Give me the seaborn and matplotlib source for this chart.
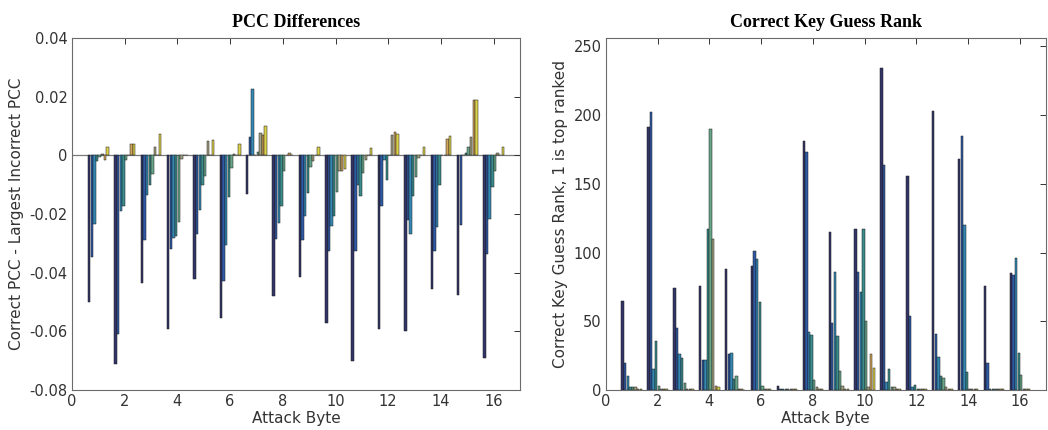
import numpy as np
import pandas as pd
import matplotlib
matplotlib.use("Agg")
import matplotlib.pyplot as plt
import seaborn as sns

bytes_ = list(range(1, 17))
series = ["s1", "s2", "s3", "s4", "s5", "s6", "s7", "s8"]

pcc = [
    [-0.0500, -0.0345, -0.0235, -0.0020, -0.0005, 0.0003, -0.0015, 0.0030],
    [-0.0711, -0.0608, -0.0191, -0.0172, -0.0015, 0.0000, 0.0038, 0.0038],
    [-0.0435, -0.0290, -0.0135, -0.0100, -0.0063, 0.0030, 0.0000, 0.0073],
    [-0.0592, -0.0318, -0.0283, -0.0275, -0.0226, -0.0013, 0.0000, 0.0000],
    [-0.0422, -0.0267, -0.0188, -0.0100, -0.0072, 0.0048, 0.0000, 0.0051],
    [-0.0555, -0.0430, -0.0305, -0.0143, -0.0043, 0.0005, 0.0000, 0.0039],
    [-0.0131, 0.0062, 0.0227, 0.0000, 0.0013, 0.0075, 0.0069, 0.0099],
    [-0.0481, -0.0285, -0.0231, -0.0174, -0.0052, 0.0000, 0.0008, 0.0000],
    [-0.0415, -0.0290, -0.0208, -0.0128, -0.0040, -0.0020, 0.0000, 0.0028],
    [-0.0572, -0.0325, -0.0240, -0.0208, -0.0125, -0.0055, -0.0055, -0.0045],
    [-0.0702, -0.0325, -0.0100, -0.0138, -0.0060, -0.0015, 0.0000, 0.0025],
    [-0.0592, -0.0174, -0.0015, -0.0083, 0.0000, 0.0068, 0.0080, 0.0073],
    [-0.0600, -0.0220, -0.0268, -0.0140, -0.0075, -0.0009, 0.0000, 0.0028],
    [-0.0456, -0.0325, -0.0244, -0.0100, 0.0000, 0.0000, 0.0057, 0.0067],
    [-0.0477, -0.0236, 0.0000, 0.0008, 0.0030, 0.0063, 0.0190, 0.0188],
    [-0.0691, -0.0335, -0.0216, -0.0109, -0.0055, 0.0008, 0.0000, 0.0030],
]

rank = [
    [65, 20, 10, 2, 2, 2, 1, 1],
    [191, 202, 15, 36, 3, 1, 1, 1],
    [74, 45, 26, 23, 5, 1, 1, 1],
    [76, 22, 22, 117, 190, 110, 3, 2],
    [88, 26, 27, 8, 10, 1, 1, 0],
    [90, 101, 95, 64, 3, 1, 1, 1],
    [3, 1, 1, 1, 1, 1, 1, 1],
    [181, 173, 42, 40, 7, 2, 1, 1],
    [115, 49, 86, 39, 14, 3, 1, 1],
    [117, 86, 71, 117, 50, 2, 26, 16],
    [234, 164, 6, 15, 2, 2, 1, 1],
    [156, 54, 2, 4, 1, 1, 1, 1],
    [203, 41, 24, 10, 9, 2, 1, 1],
    [168, 185, 120, 13, 1, 1, 1, 1],
    [76, 20, 1, 1, 1, 1, 1, 1],
    [85, 84, 96, 27, 11, 1, 1, 1],
]

palette = ["#2b2d6e", "#1c55b8", "#1f8fc8", "#2d9a98",
           "#5fb08a", "#a9a77a", "#e3a84a", "#f2e632"]

def to_long(vals):
    rows = []
    for b, row in zip(bytes_, vals):
        for s, v in zip(series, row):
            rows.append({"byte": b, "series": s, "val": v})
    return pd.DataFrame(rows)

sns.set_theme(style="white")
plt.rcParams["font.family"] = ["DejaVu Sans"]
txt = "#333333"

fig = plt.figure(figsize=(10.48, 4.30), dpi=100)
ax1 = fig.add_axes([0.0687, 0.093, 0.4275, 0.8186])
ax2 = fig.add_axes([0.578, 0.093, 0.420, 0.8186])

for ax, vals in [(ax1, pcc), (ax2, rank)]:
    df = to_long(vals)
    sns.barplot(data=df, x="byte", y="val", hue="series", native_scale=True,
                dodge=True, width=0.8, gap=0.08, palette=palette,
                edgecolor="#1a1a1a", linewidth=0.35, legend=False, ax=ax,
                errorbar=None)
    ax.set_xlim(0, 17)
    ax.set_xticks(range(0, 17, 2))
    ax.set_xlabel("Attack Byte", fontsize=11, color=txt, labelpad=1)
    ax.tick_params(direction="in", length=4, top=True, right=True,
                   labelsize=10.5, colors=txt, pad=3, width=0.7)
    for sp in ax.spines.values():
        sp.set_visible(True)
        sp.set_color("#6b6b6b")
        sp.set_linewidth(0.8)

ax1.set_ylim(-0.08, 0.04)
ax1.set_yticks([-0.08, -0.06, -0.04, -0.02, 0, 0.02, 0.04])
ax1.set_yticklabels(["-0.08", "-0.06", "-0.04", "-0.02", "0", "0.02", "0.04"])
ax1.axhline(0, color="#7a7a7a", linewidth=0.9, zorder=0.5)
ax1.set_ylabel("Correct PCC - Largest Incorrect PCC", fontsize=11, color=txt)
ax1.set_title("PCC Differences", fontsize=13, fontweight="bold",
              family="Liberation Serif", color="black", pad=8)

ax2.set_ylim(0, 256)
ax2.set_yticks(range(0, 251, 50))
ax2.set_ylabel("Correct Key Guess Rank, 1 is top ranked", fontsize=11, color=txt)
ax2.set_title("Correct Key Guess Rank", fontsize=13, fontweight="bold",
              family="Liberation Serif", color="black", pad=8)

fig.savefig("out.png", dpi=100)
